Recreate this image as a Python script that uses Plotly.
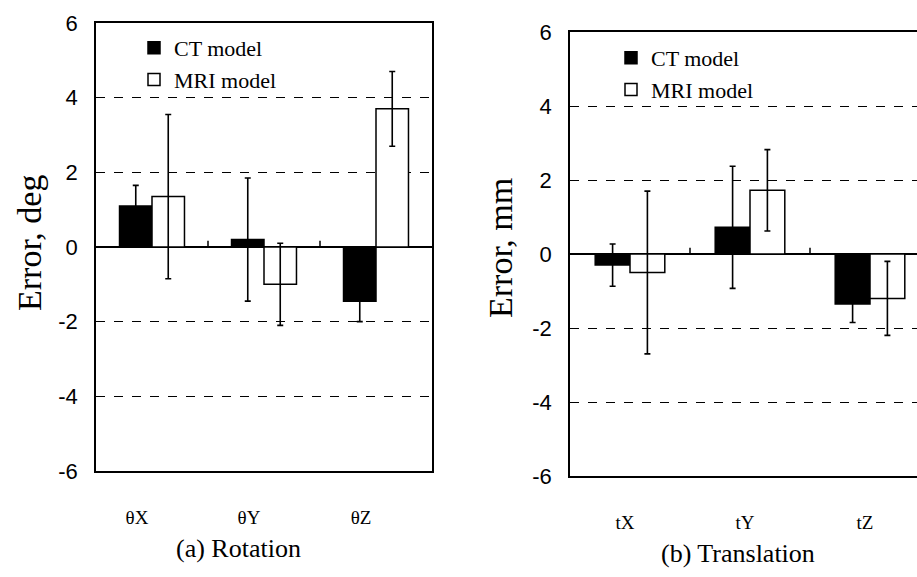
import plotly.graph_objects as go

rot_cats = ["θX", "θY", "θZ"]
rot_ct = [1.1, 0.2, -1.45]
rot_ct_sd = [0.55, 1.65, 0.55]
rot_mri = [1.35, -1.0, 3.7]
rot_mri_sd = [2.2, 1.1, 1.0]

tr_cats = ["tX", "tY", "tZ"]
tr_ct = [-0.3, 0.72, -1.35]
tr_ct_sd = [0.57, 1.65, 0.5]
tr_mri = [-0.5, 1.72, -1.2]
tr_mri_sd = [2.2, 1.1, 1.0]

y_ticks = [6, 4, 2, 0, -2, -4, -6]

serif = "Liberation Serif"
sans = "Liberation Sans"
W, H = 917, 577

fig = go.Figure()

def add_panel(cats, ct, ct_sd, mri, mri_sd, xa, ya, lg):
    fig.add_trace(go.Bar(x=cats, y=ct, name="CT model", marker=dict(color="black", line=dict(color="black", width=1.5)),
                         error_y=dict(type="data", array=ct_sd, color="black", thickness=1.6, width=3),
                         xaxis=xa, yaxis=ya, legend=lg))
    fig.add_trace(go.Bar(x=cats, y=mri, name="MRI model", marker=dict(color="white", line=dict(color="black", width=1.5)),
                         error_y=dict(type="data", array=mri_sd, color="black", thickness=1.6, width=3),
                         xaxis=xa, yaxis=ya, legend=lg))

add_panel(rot_cats, rot_ct, rot_ct_sd, rot_mri, rot_mri_sd, "x", "y", "legend")
add_panel(tr_cats, tr_ct, tr_ct_sd, tr_mri, tr_mri_sd, "x2", "y2", "legend2")

yax = dict(range=[-6, 6], tickvals=y_ticks, ticktext=[str(v) for v in y_ticks],
           showgrid=True, gridcolor="black", griddash="dash", gridwidth=1,
           zeroline=True, zerolinecolor="black", zerolinewidth=1.8,
           showline=True, linecolor="black", linewidth=1.8,
           ticks="", tickfont=dict(family=sans, size=22, color="black"),
           ticklabelstandoff=12, automargin=False)
xax = dict(showline=True, linecolor="black", linewidth=1.8, mirror=True, ticks="", automargin=False,
           tickfont=dict(family=serif, size=19, color="black"),
           ticklabelstandoff=28, showgrid=False)

fig.update_layout(
    template="none",
    width=W, height=H, margin=dict(l=0, r=0, t=0, b=0),
    paper_bgcolor="white", plot_bgcolor="white",
    barmode="group", bargap=0.42, bargroupgap=0,
    xaxis=dict(domain=[96 / W, 432 / W], anchor="y", range=[-0.5, 2.5], ticklabelshift=-15, **xax),
    yaxis=dict(domain=[1 - 471 / H, 1 - 23 / H], anchor="x", mirror=True, **yax),
    xaxis2=dict(domain=[570 / W, 1.0], anchor="y2", range=[-0.5, -0.5 + (W - 570) / 120], ticklabelshift=-5, **xax),
    yaxis2=dict(domain=[1 - 476 / H, 1 - 32 / H], anchor="x2", mirror=False, **yax),
    legend=dict(x=134 / W, y=1 - 27 / H, xanchor="left", yanchor="top", bgcolor="rgba(0,0,0,0)",
                font=dict(family=serif, size=22, color="black"), itemwidth=30, tracegroupgap=0),
    legend2=dict(x=611 / W, y=1 - 37 / H, xanchor="left", yanchor="top", bgcolor="rgba(0,0,0,0)",
                 font=dict(family=serif, size=22, color="black"), itemwidth=30, tracegroupgap=0),
    showlegend=True,
    annotations=[
        dict(text="Error, deg", x=29 / W, y=1 - 243 / H, xref="paper", yref="paper", textangle=-90,
             xanchor="center", yanchor="middle", showarrow=False,
             font=dict(family=serif, size=34, color="black")),
        dict(text="Error, mm", x=501 / W, y=1 - 248 / H, xref="paper", yref="paper", textangle=-90,
             xanchor="center", yanchor="middle", showarrow=False,
             font=dict(family=serif, size=34, color="black")),
        dict(text="(a) Rotation", x=238 / W, y=1 - 548 / H, xref="paper", yref="paper",
             xanchor="center", yanchor="middle", showarrow=False,
             font=dict(family=serif, size=26, color="black")),
        dict(text="(b) Translation", x=738 / W, y=1 - 553 / H, xref="paper", yref="paper",
             xanchor="center", yanchor="middle", showarrow=False,
             font=dict(family=serif, size=26, color="black")),
    ],
)

for xr, yr in [("x", "y"), ("x2", "y2")]:
    for xb in [0.5, 1.5]:
        fig.add_shape(type="line", xref=xr, yref=yr, x0=xb, x1=xb, y0=0, y1=0.17,
                      line=dict(color="black", width=1.5))

fig.write_html("out.html")
